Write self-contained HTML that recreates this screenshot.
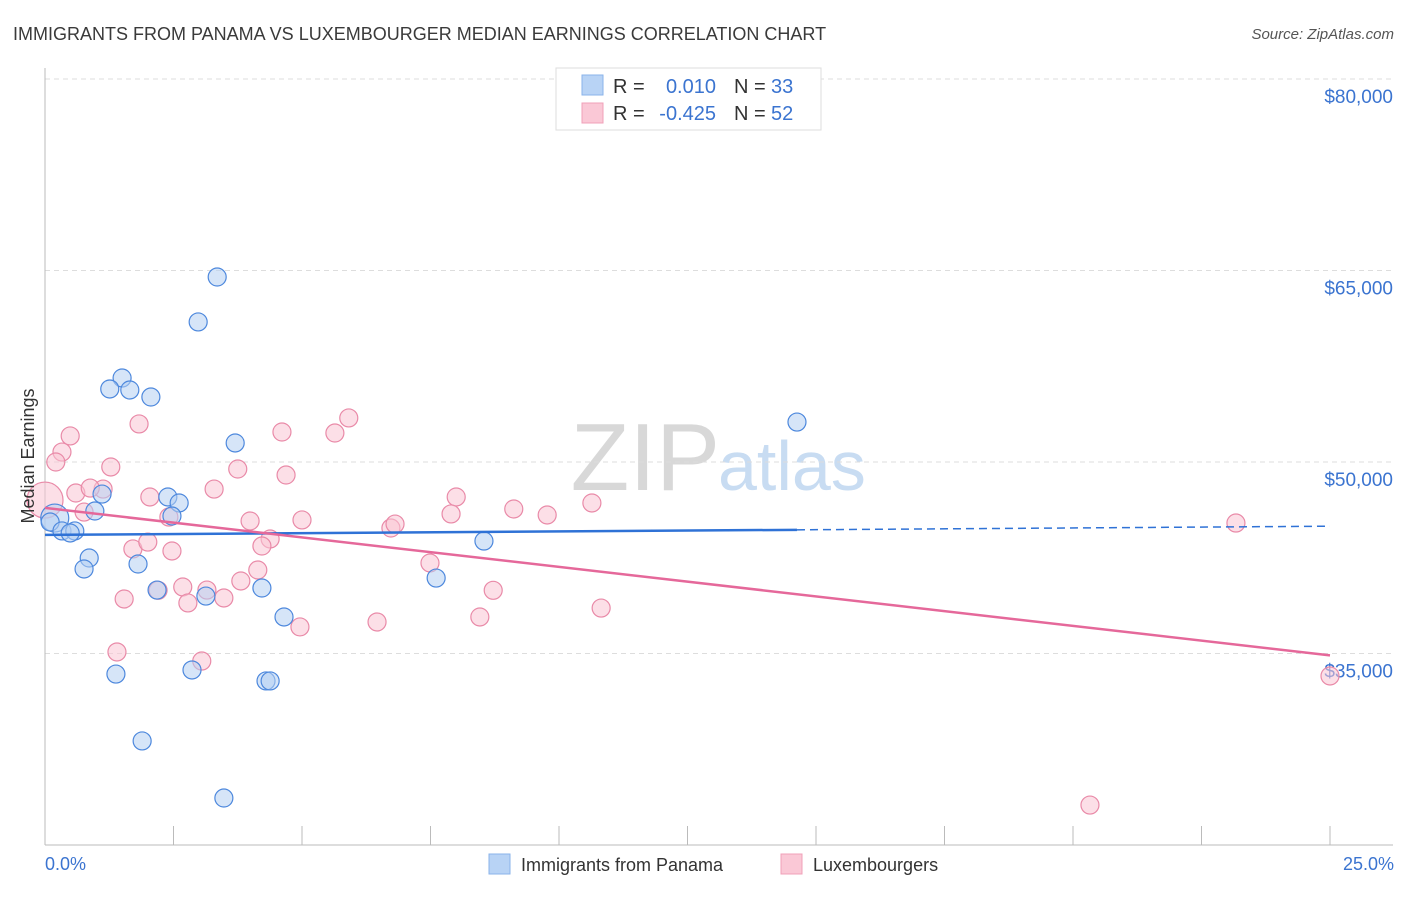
<!DOCTYPE html>
<html><head><meta charset="utf-8"><style>
body{margin:0;background:#fff;font-family:"Liberation Sans",sans-serif;}
svg text{font-family:"Liberation Sans",sans-serif;}
</style></head><body>
<svg id="chart" width="1406" height="892" xmlns="http://www.w3.org/2000/svg">
<text x="13" y="40" font-size="18" fill="#3a3a3a">IMMIGRANTS FROM PANAMA VS LUXEMBOURGER MEDIAN EARNINGS CORRELATION CHART</text>
<text x="1394" y="39" font-size="15" fill="#555" font-style="italic" text-anchor="end">Source: ZipAtlas.com</text>
<text x="720" y="490" font-size="96" fill="#d8d8d8" font-family="Liberation Serif" text-anchor="end">ZIP</text>
<text x="718" y="490" font-size="70" fill="#c8dcf2">atlas</text>
<g id="grid"></g>
<g id="axes"></g>
<g id="pts"></g>
<g id="trends"></g>
<text transform="translate(34,456) rotate(-90)" font-size="18" fill="#333" text-anchor="middle">Median Earnings</text>
<g>
<rect x="556" y="68" width="265" height="62" fill="#fff" stroke="#ddd"/>
<rect x="582" y="75" width="21" height="20" fill="#b8d3f5" stroke="#8ab3ea"/>
<rect x="582" y="103" width="21" height="20" fill="#fac8d6" stroke="#f0a0b8"/>
<text x="613" y="93" font-size="20" fill="#333">R =</text>
<text x="716" y="93" font-size="20" fill="#3b74d0" text-anchor="end">0.010</text>
<text x="734" y="93" font-size="20" fill="#333">N =</text>
<text x="771" y="93" font-size="20" fill="#3b74d0">33</text>
<text x="613" y="120" font-size="20" fill="#333">R =</text>
<text x="716" y="120" font-size="20" fill="#3b74d0" text-anchor="end">-0.425</text>
<text x="734" y="120" font-size="20" fill="#333">N =</text>
<text x="771" y="120" font-size="20" fill="#3b74d0">52</text>
</g>
<g>
<rect x="489" y="854" width="21" height="20" fill="#b8d3f5" stroke="#8ab3ea"/>
<text x="521" y="871" font-size="18" fill="#333">Immigrants from Panama</text>
<rect x="781" y="854" width="21" height="20" fill="#fac8d6" stroke="#f0a0b8"/>
<text x="813" y="871" font-size="18" fill="#333">Luxembourgers</text>
</g>
</svg>
<script>
const xTickLabels=["0.0%","25.0%"];
const yTicks=[35000,50000,65000,80000];
const yTickLabels=["$35,000","$50,000","$65,000","$80,000"];
const panamaX=[3.35,2.98,1.50,1.26,1.65,2.06,3.70,14.63,1.11,2.39,2.61,0.97,2.47,0.19,0.10,0.33,0.58,0.49,8.54,0.86,0.76,1.81,2.18,3.13,4.22,7.61,4.65,1.38,2.86,4.30,4.38,1.89,3.48];
const panamaY=[64490,60970,56580,55720,55640,55090,51490,53130,47490,47260,46790,46160,45770,45610,45300,44600,44600,44440,43810,42480,41620,42010,39970,39500,40130,40910,37860,33390,33710,32850,32850,28150,23680];
const luxX=[0.0,0.49,0.33,0.21,1.83,1.28,3.75,4.61,5.64,5.91,4.69,1.13,0.60,0.88,2.04,2.41,0.76,3.29,3.99,5.00,8.00,9.12,9.77,10.64,7.90,6.73,6.81,4.38,1.71,2.00,2.47,4.22,4.14,3.81,7.49,2.68,3.15,2.20,2.78,3.48,8.72,10.82,1.54,4.96,6.46,8.46,1.40,3.05,23.17,25.0,20.33];
const luxY=[47020,52040,50780,50000,52980,49610,49450,52350,52270,53450,48980,47880,47570,47960,47260,45690,46080,47880,45380,45460,47260,46320,45850,46790,45930,44830,45140,43970,43190,43730,43030,43420,41540,40680,42090,40210,39970,39950,38960,39350,39950,38560,39270,37080,37470,37860,35120,34410,45220,33240,23130];
const NS="http://www.w3.org/2000/svg";
const X0=45,X1=1330,YB=845;
function sx(v){return X0+(v/25)*(X1-X0);}
function sy(v){return 79+(80000-v)*191.5/15000;}
function mk(tag,attrs,parent){const e=document.createElementNS(NS,tag);for(const k in attrs)e.setAttribute(k,attrs[k]);parent.appendChild(e);return e;}
const grid=document.getElementById('grid'),axes=document.getElementById('axes'),pts=document.getElementById('pts'),tr=document.getElementById('trends');
yTicks.forEach((t,i)=>{
 const l=mk('line',{x1:X0,x2:1393,y1:sy(t),y2:sy(t),stroke:'#ddd','stroke-dasharray':'5,4'},grid);
 
 
 const tx=mk('text',{x:1393,y:sy(t)+24,'font-size':19,fill:'#3b74d0','text-anchor':'end'},grid);
 tx.textContent=yTickLabels[i];
 
 
});
let a=mk('line',{x1:X0,x2:X0,y1:68,y2:YB,stroke:'#bbb'},axes);


a=mk('line',{x1:X0,x2:1393,y1:YB,y2:YB,stroke:'#bbb'},axes);


for(let i=1;i<=10;i++){
 const t=mk('line',{x1:sx(i*2.5),x2:sx(i*2.5),y1:826,y2:YB,stroke:'#bbb'},axes);
 
 
}
[[0,'start',45],[25,'end',1394]].forEach((d,i)=>{
 const tx=mk('text',{x:d[2],y:870,'font-size':18,fill:'#3b74d0','text-anchor':d[1]},axes);
 tx.textContent=xTickLabels[i];
 
 
});
function drawPts(xs,ys,fill,stroke,name,bigIdx,bigR){
 xs.forEach((x,i)=>{
  const c=mk('circle',{cx:sx(x),cy:sy(ys[i]),r:i===bigIdx?bigR:9,fill:fill,'fill-opacity':0.55,stroke:stroke,'stroke-width':1.2},pts);
  
  
 });
}
drawPts(luxX,luxY,'#f9c4d3','#e98aa8','luxembourgers-point',0,18);
drawPts(panamaX,panamaY,'#b5d0f3','#4d88dd','panama-point',13,14);
function reg(xs,ys){const n=xs.length;let mx=0,my=0;xs.forEach((x,i)=>{mx+=x;my+=ys[i];});mx/=n;my/=n;let sxy=0,sxx=0;xs.forEach((x,i)=>{sxy+=(x-mx)*(ys[i]-my);sxx+=(x-mx)*(x-mx);});const b=sxy/sxx;return [my-b*mx,b];}
const rp=reg(panamaX,panamaY),rl=reg(luxX,luxY);
const xmaxP=Math.max(...panamaX);
let ln=mk('line',{x1:sx(0),y1:sy(rp[0]),x2:sx(xmaxP),y2:sy(rp[0]+rp[1]*xmaxP),stroke:'#2f72d6','stroke-width':2.5},tr);


ln=mk('line',{x1:sx(xmaxP),y1:sy(rp[0]+rp[1]*xmaxP),x2:sx(25),y2:sy(rp[0]+rp[1]*25),stroke:'#2f72d6','stroke-width':1.5,'stroke-dasharray':'8,5'},tr);


ln=mk('line',{x1:sx(0),y1:sy(rl[0]),x2:sx(25),y2:sy(rl[0]+rl[1]*25),stroke:'#e5689a','stroke-width':2.5},tr);


</script>
</body></html>
